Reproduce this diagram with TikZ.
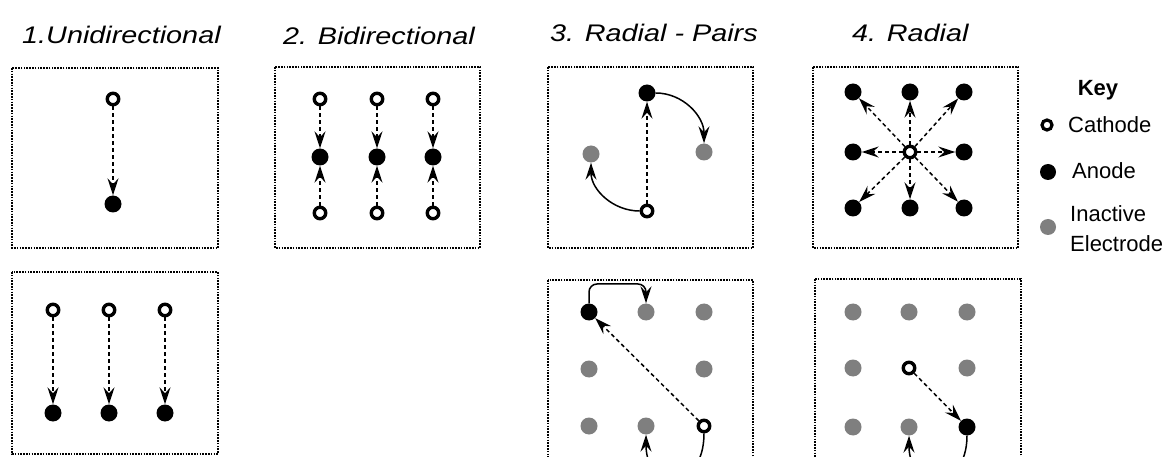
\documentclass[tikz,border=0pt]{standalone}
\usepackage{fontspec}
\setmainfont{Liberation Sans}
\usetikzlibrary{arrows.meta}
\definecolor{grayc}{HTML}{7F7F7F}
\newcommand\ttltext[1]{\scalebox{1.2}[1]{#1}}
\begin{document}
\begin{tikzpicture}[x=1pt,y=1pt,
  box/.style={draw, line width=1.9pt, dash pattern=on 1.6pt off 1.2pt},
  cath/.style={circle, draw, line width=3.4pt, minimum size=11.5pt, inner sep=0pt, fill=white},
  anod/.style={circle, fill=black, minimum size=17pt, inner sep=0pt},
  inact/.style={circle, fill=grayc, minimum size=17pt, inner sep=0pt},
  tipk/.style={-{Stealth[length=17pt,width=11pt,inset=6pt]}},
  darr/.style={tipk, line width=1.5pt, dash pattern=on 4pt off 3pt},
  sarr/.style={tipk, line width=1.5pt},
  ttl/.style={font=\fontsize{24}{28}\selectfont\itshape, anchor=base west, inner sep=0pt},
  keyt/.style={font=\fontsize{22}{26}\selectfont, anchor=base west, inner sep=0pt}]
\useasboundingbox (0,0) rectangle (1168,-457);
\fill[white] (0,0) rectangle (1168,-457);
\clip (0,0) rectangle (1168,-457);

% titles
\node[ttl] (t1) at (22,-44) {\ttltext{1.Unidirectional}};
\node[ttl] (t2) at (283,-45) {\ttltext{2. Bidirectional}};
\node[ttl] (t3) at (550,-42) {\ttltext{3. Radial - Pairs}};
\node[ttl] (t4) at (852,-42) {\ttltext{4. Radial}};

% panel 1 top
\draw[box] (12,-68) rectangle (218,-248);
\node[cath] (p1c) at (113,-99) {};
\node[anod] (p1a) at (113,-204) {};
\draw[darr] (p1c) -- (p1a);

% panel 1 bottom
\draw[box] (12,-272) rectangle (218,-454);
\foreach \x [count=\i] in {53,109,165} {
  \node[cath] (q1c\i) at (\x,-310) {};
  \node[anod] (q1a\i) at (\x,-413) {};
  \draw[darr] (q1c\i) -- (q1a\i);
}

% panel 2
\draw[box] (275,-67) rectangle (480,-248);
\foreach \x [count=\i] in {320,377,433} {
  \node[cath] (p2t\i) at (\x,-99) {};
  \node[anod] (p2a\i) at (\x,-157) {};
  \node[cath] (p2b\i) at (\x,-213) {};
  \draw[darr] (p2t\i) -- (p2a\i);
  \draw[darr] (p2b\i) -- (p2a\i);
}

% panel 3 top
\draw[box] (548,-67) rectangle (753,-248);
\node[anod] (p3a) at (647,-93) {};
\node[inact] (p3l) at (591,-154) {};
\node[inact] (p3r) at (704,-152) {};
\node[cath] (p3c) at (647,-211) {};
\draw[darr] (p3c) -- (p3a);
\draw[sarr] (p3c.west) to[out=180,in=-90] (p3l.south);
\draw[sarr] (p3a.east) to[out=0,in=90] (p3r.north);

% panel 4 top
\draw[box] (813,-67) rectangle (1018,-248);
\node[cath] (p4ctr) at (910,-152) {};
\foreach \x/\y/\n in {853/-92/1,910/-92/2,964/-92/3,853/-152/4,964/-152/5,853/-208/6,910/-208/7,964/-208/8} {
  \node[anod] (p4an\n) at (\x,\y) {};
  \draw[darr] (p4ctr) -- (p4an\n);
}

% panel 3 bottom
\draw[box] (548,-280) rectangle (753,-470);
\node[anod] (r3a) at (589,-312) {};
\node[inact] (r3b) at (646,-312) {};
\node[inact] (r3c) at (704,-312) {};
\node[inact] (r3d) at (589,-369) {};
\node[inact] (r3e) at (704,-369) {};
\node[inact] (r3f) at (589,-426) {};
\node[inact] (r3g) at (646,-426) {};
\node[cath] (r3h) at (704,-426) {};
\coordinate (r3k1) at (589,-284);
\coordinate (r3k2) at (646,-284);
\draw[darr] (r3h) -- (r3a);
\draw[sarr, rounded corners=8pt] (r3a.north) -- (r3k1) -- (r3k2) -- (r3b.north);
\draw[sarr] (r3h.south) .. controls (704,-492) and (646,-492) .. (r3g.south);

% panel 4 bottom
\draw[box] (815,-279) rectangle (1021,-470);
\foreach \x/\y/\n in {853/-312/1,909/-312/2,967/-312/3,853/-368/4,967/-368/5,853/-427/6,909/-427/7} {
  \node[inact] (r4g\n) at (\x,\y) {};
}
\node[cath] (r4cat) at (909,-368) {};
\node[anod] (r4ano) at (967,-427) {};
\draw[darr] (r4cat) -- (r4ano);
\draw[sarr] (r4ano.south) .. controls (967,-492) and (909,-492) .. (r4g7.south);

% key
\node[font=\fontsize{22}{26}\selectfont\bfseries, anchor=base, inner sep=0pt] (kt) at (1098,-96) {Key};
\node[cath, minimum size=10pt, line width=3.2pt] (kc) at (1047,-125) {};
\node[anod, minimum size=16pt] (ka) at (1048,-172) {};
\node[inact, minimum size=16pt] (ki) at (1048,-227) {};
\node[keyt] (kct) at (1068,-133) {Cathode};
\node[keyt] (kat) at (1072,-179) {Anode};
\node[keyt] (kit) at (1070,-222) {Inactive};
\node[keyt] (ket) at (1070,-252) {Electrode};
\end{tikzpicture}
\end{document}
